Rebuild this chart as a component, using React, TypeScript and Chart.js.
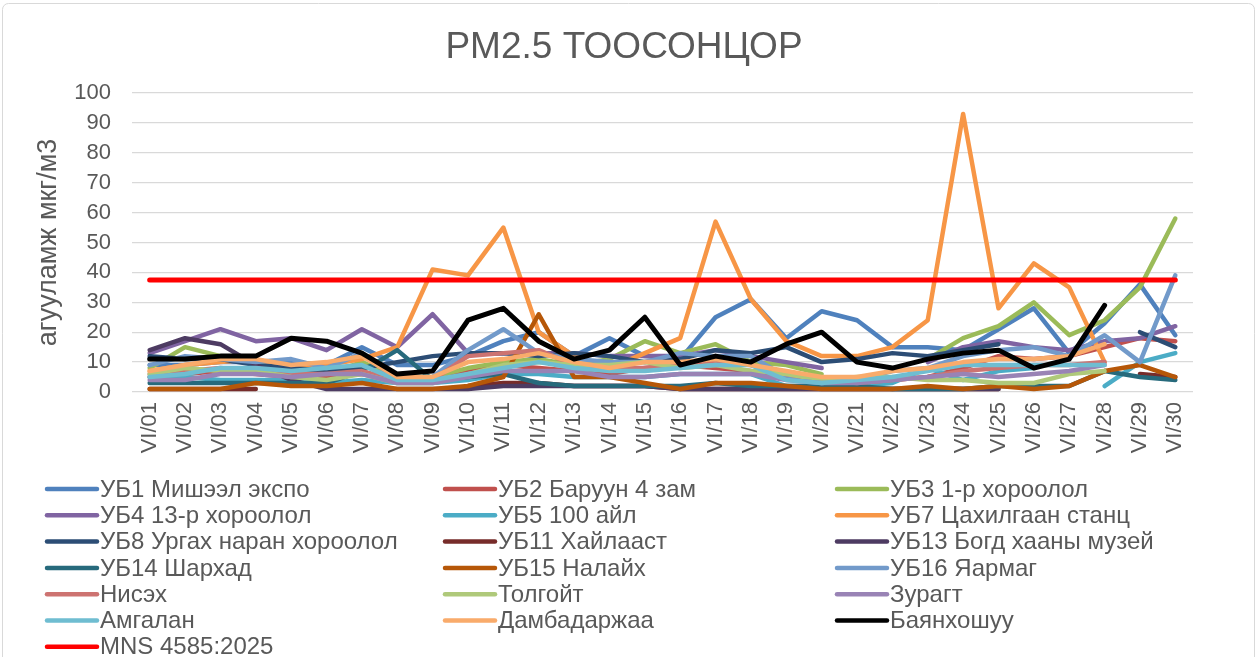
import React, { useEffect, useRef } from 'react';
import { Chart, registerables } from 'chart.js';

Chart.register(...registerables);

const FONT = '"Liberation Sans", Arial, sans-serif';
const TEXT = '#595959';

const days = [
  'VI/01', 'VI/02', 'VI/03', 'VI/04', 'VI/05', 'VI/06', 'VI/07', 'VI/08', 'VI/09', 'VI/10',
  'VI/11', 'VI/12', 'VI/13', 'VI/14', 'VI/15', 'VI/16', 'VI/17', 'VI/18', 'VI/19', 'VI/20',
  'VI/21', 'VI/22', 'VI/23', 'VI/24', 'VI/25', 'VI/26', 'VI/27', 'VI/28', 'VI/29', 'VI/30',
];

const yTicks = [0, 10, 20, 30, 40, 50, 60, 70, 80, 90, 100];

const ub1 = [9, 9, 10, 10, 10, 9, 15, 9, 9, 12, 17, 20, 12, 18, 12, 11, 25, 31, 18, 27, 24, 15, 15, 14, 21, 28, 13, 23, 36, 19];
const ub2 = [5, 6, 7, 6, 5, 5, 6, 4, 4, 7, 9, 8, 7, 6, 8, 9, 8, 7, 5, 4, 3, 4, 5, 8, 12, 11, 12, 15, 18, 17];
const ub3 = [8, 15, 12, 10, 8, 6, 10, 5, 5, 8, 10, 11, 9, 11, 17, 13, 16, 10, 9, 6, null, null, 11, 18, 22, 30, 19, 24, 35, 58];
const ub4 = [13, 17, 21, 17, 18, 14, 21, 15, 26, 13, 13, 13, 13, 12, 12, 12, 14, 12, 10, 8, null, null, 10, 15, 17, 15, 14, 17, 18, 22];
const ub5 = [5, 5, 4, 4, 4, 3, 4, 3, 3, 4, 6, 6, 5, 5, 5, 6, 6, 6, 2, 2, 2, 3, 8, 4, 7, 8, null, 2, 10, 13];
const ub7 = [7, 9, 10, 11, 8, 9, 11, 15, 41, 39, 55, 20, 12, 8, 13, 18, 57, 31, 17, 12, 12, 15, 24, 93, 28, 43, 35, 10, null, null];
const ub8 = [12, 11, 11, 9, 8, 7, 8, 10, 12, 13, 13, 12, 13, 12, 10, 11, 14, 13, 15, 10, 11, 13, 12, 14, 16, null, null, null, 20, 15];
const ub11 = [1, 1, 1, 1, null, null, null, null, null, 2, 3, 3, 2, 2, 2, 1, 1, 1, 1, 1, 1, 1, 1, 1, 1, null, null, null, 6, 5];
const ub13 = [14, 18, 16, 9, 4, 1, 1, 1, 1, 1, 2, 2, 2, 2, 2, 1, 1, 1, 1, 1, 1, 1, 1, 1, 1, null, null, null, null, null];
const ub14 = [3, 3, 3, 3, 3, 3, 7, 14, 4, 5, 6, 3, 2, 2, 2, 2, 3, 2, 2, 2, 2, 1, 1, 1, 2, 2, 2, 7, 5, 4];
const ub15 = [1, 1, 1, 3, 2, 2, 3, 1, 1, 2, 5, 26, 5, 5, 3, 1, 3, 3, 2, 1, 1, 1, 2, 1, 2, 1, 2, 7, 9, 5];
const ub16 = [9, 12, 11, 10, 11, 8, 13, 4, 5, 14, 21, 13, 11, 10, 10, 13, 12, 12, 5, 3, 4, 7, 8, 12, 14, 15, 12, 19, 10, 39];
const nisekh = [6, 7, 8, 7, 6, 6, 7, 4, 4, 12, 13, 14, 9, 8, 8, 9, 10, 9, 6, 4, 3, 4, 5, 7, 8, 9, 9, 10, null, null];
const tolgoit = [6, 8, 7, 7, 5, 4, 6, 3, 3, 6, 9, 10, 9, 9, 10, 8, 9, 7, 6, 4, 5, 5, 4, 4, 3, 3, 6, 7, null, null];
const zuragt = [4, 4, 6, 6, 5, 6, 6, 3, 3, 5, 7, 7, 7, 5, 5, 6, 6, 6, 4, 3, 3, 4, 5, 6, 5, 6, 7, 9, null, null];
const amgalan = [5, 6, 8, 8, 7, 8, 9, 4, 4, 6, 8, 10, 8, 7, 7, 8, 9, 9, 4, 3, 4, 5, 7, 9, 9, 9, 9, 9, null, null];
const dambadarjaa = [7, 9, 11, 11, 9, 10, 12, 5, 5, 10, 11, 13, 10, 8, 10, 10, 11, 9, 7, 5, 5, 7, 8, 10, 11, 11, 12, 16, null, null];
const bayankhoshuu = [11, 11, 12, 12, 18, 17, 13, 6, 7, 24, 28, 17, 11, 14, 25, 9, 12, 10, 16, 20, 10, 8, 11, 13, 14, 8, 11, 29, null, null];
const mnsLimit = days.map(() => 37.5);

const seriesNames = [
  'УБ1 Мишээл экспо', 'УБ2 Баруун 4 зам', 'УБ3 1-р хороолол',
  'УБ4 13-р хороолол', 'УБ5 100 айл', 'УБ7 Цахилгаан станц',
  'УБ8 Ургах наран хороолол', 'УБ11 Хайлааст', 'УБ13 Богд хааны музей',
  'УБ14 Шархад', 'УБ15 Налайх', 'УБ16 Яармаг',
  'Нисэх', 'Толгойт', 'Зурагт',
  'Амгалан', 'Дамбадаржаа', 'Баянхошуу',
  'MNS 4585:2025',
];
const seriesValues = [
  ub1, ub2, ub3, ub4, ub5, ub7, ub8, ub11, ub13, ub14, ub15, ub16,
  nisekh, tolgoit, zuragt, amgalan, dambadarjaa, bayankhoshuu, mnsLimit,
];
const seriesColors = [
  '#4F81BD', '#C0504D', '#9BBB59', '#8064A2', '#4BACC6', '#F79646',
  '#2C4D75', '#772C2A', '#4D3B62', '#276A7C', '#B65708', '#729ACA',
  '#CD7371', '#AFC97A', '#9983B5', '#6FBDD1', '#F9AB6B', '#000000',
  '#FF0000',
];
const seriesWidths = [4.5, 4.5, 4.5, 4.5, 4.5, 4.5, 4.5, 4.5, 4.5, 4.5, 4.5, 4.5, 4.5, 4.5, 4.5, 4.5, 4.5, 5, 5];

const decorPlugin = {
  id: 'decor',
  beforeDraw(chart: any) {
    const ctx = chart.ctx;
    ctx.save();
    ctx.fillStyle = '#ffffff';
    ctx.fillRect(0, 0, chart.width, chart.height);
    ctx.strokeStyle = '#D9D9D9';
    ctx.lineWidth = 1;
    ctx.beginPath();
    if (ctx.roundRect) ctx.roundRect(2.5, 3.5, 1252, 700, 6);
    else ctx.rect(2.5, 3.5, 1252, 700);
    ctx.stroke();
    ctx.restore();
  },
  afterDraw(chart: any) {
    const ctx = chart.ctx;
    ctx.save();
    // title
    ctx.fillStyle = TEXT;
    ctx.font = `37px ${FONT}`;
    ctx.textAlign = 'center';
    ctx.textBaseline = 'middle';
    ctx.fillText('PM2.5 ТООСОНЦОР', 624, 48);
    // legend
    const colX = [45, 443, 835];
    const rowY0 = 489;
    const rowH = 26.3;
    ctx.font = `24px ${FONT}`;
    ctx.textAlign = 'left';
    chart.data.datasets.forEach((ds: any, i: number) => {
      const col = i % 3;
      const row = Math.floor(i / 3);
      const x = colX[col];
      const y = rowY0 + row * rowH;
      ctx.strokeStyle = ds.borderColor;
      ctx.lineWidth = 4.5;
      ctx.lineCap = 'round';
      ctx.beginPath();
      ctx.moveTo(x + 2, y);
      ctx.lineTo(x + 52, y);
      ctx.stroke();
      ctx.fillStyle = TEXT;
      ctx.fillText(ds.label, x + 55, y + 1);
    });
    ctx.restore();
  },
};

export default function App() {
  const ref = useRef<HTMLCanvasElement | null>(null);

  useEffect(() => {
    document.body.style.margin = '0';
    const canvas = ref.current;
    if (!canvas) return;
    const n = seriesValues.length;
    const chart = new Chart(canvas, {
      type: 'line',
      data: {
        labels: days,
        datasets: seriesValues.map((vals, i) => ({
          label: seriesNames[i],
          data: vals,
          borderColor: seriesColors[i],
          backgroundColor: seriesColors[i],
          borderWidth: seriesWidths[i],
          pointRadius: 0,
          pointHoverRadius: 0,
          tension: 0,
          spanGaps: false,
          borderCapStyle: 'round',
          borderJoinStyle: 'round',
          fill: false,
          order: n - i,
        })),
      },
      options: {
        responsive: false,
        animation: false,
        devicePixelRatio: 1,
        layout: { padding: { left: 30, right: 66, top: 93, bottom: 190 } },
        plugins: {
          legend: { display: false },
          title: { display: false },
          tooltip: { enabled: false },
        },
        scales: {
          x: {
            type: 'category',
            offset: true,
            grid: { display: false, drawTicks: false },
            border: { display: false },
            ticks: {
              minRotation: 90,
              maxRotation: 90,
              autoSkip: false,
              padding: 10,
              color: TEXT,
              font: { family: FONT, size: 22 },
            },
            afterFit(scale: any) {
              scale.height = 75;
            },
          },
          y: {
            min: 0,
            max: 100,
            afterBuildTicks(scale: any) {
              scale.ticks = yTicks.map((v) => ({ value: v }));
            },
            grid: { color: '#D9D9D9', lineWidth: 1.3, drawTicks: false },
            border: { display: false },
            ticks: {
              padding: 21,
              color: TEXT,
              font: { family: FONT, size: 22 },
            },
            title: {
              display: true,
              text: 'агууламж мкг/м3',
              color: TEXT,
              font: { family: FONT, size: 27 },
              padding: { top: 2, bottom: 0 },
            },
            afterFit(scale: any) {
              scale.width = 102;
            },
          },
        },
      } as any,
      plugins: [decorPlugin],
    });
    return () => chart.destroy();
  }, []);

  return (
    <div style={{ position: 'relative', width: 1259, height: 657 }}>
      <canvas ref={ref} width={1259} height={657} style={{ display: 'block' }} />
    </div>
  );
}
